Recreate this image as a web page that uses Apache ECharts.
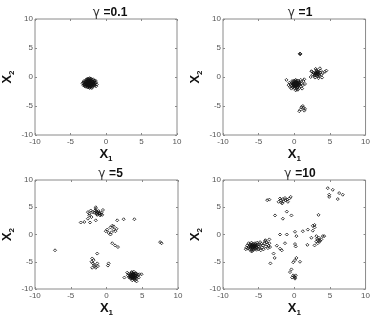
<!DOCTYPE html>
<html>
<head>
<meta charset="utf-8">
<script src="https://cdn.jsdelivr.net/npm/echarts@6/dist/echarts.min.js"></script>
<style>
html,body{margin:0;padding:0;background:#fff;}
#chart{width:373px;height:318px;}
</style>
</head>
<body>
<div id="chart"></div>
<script>
// panel titles (gamma values) and shared ticks
var gammas = ["0.1", "1", "5", "10"];
var ticks = [-10, -5, 0, 5, 10];

// gamma = 0.1 : one tight blob
var pts01 = [
  [-2.3,-1.1],[-2.5,-1.0],[-2.1,-1.2],[-2.4,-1.3],[-2.2,-0.9],[-2.6,-1.2],[-2.0,-1.0],[-2.7,-0.9],
  [-1.9,-1.3],[-2.3,-0.7],[-2.4,-1.5],[-2.8,-1.1],[-1.8,-1.0],[-2.5,-0.6],[-2.1,-1.6],[-3.0,-1.2],
  [-1.6,-1.2],[-2.2,-0.4],[-2.6,-1.7],[-2.9,-0.8],[-1.7,-0.7],[-3.1,-1.0],[-1.5,-1.1],[-2.0,-0.5],
  [-2.7,-1.5],[-1.9,-1.7],[-2.4,-0.3],[-3.2,-1.4],[-1.4,-0.9],[-2.8,-0.5],[-2.3,-1.9],[-1.6,-1.5],
  [-3.0,-1.6],[-2.9,-1.3],[-1.8,-0.4],[-2.5,-1.4],[-2.2,-1.4],[-2.0,-0.8],[-2.6,-0.8],[-2.4,-0.9],
  [-2.1,-0.6],[-2.7,-1.3],[-1.9,-1.1],[-2.3,-1.5],[-1.7,-1.3],[-2.9,-1.0],[-2.2,-1.8],[-3.3,-1.1],
  [-1.3,-1.3],[-2.6,-0.3],[-2.0,-1.4],[-2.5,-1.8],[-1.8,-0.8],[-3.1,-0.7],[-2.8,-1.7],[-1.5,-0.6],
  [-2.1,-0.3],[-2.4,-0.5],[-2.0,-1.9],[-3.2,-0.9],[-1.4,-1.6],[-2.7,-0.4],[-2.3,-0.2],[-1.6,-0.9],
  [-2.9,-1.5],[-2.35,-1.0],[-2.15,-1.1],[-2.45,-1.2],[-2.25,-1.3],[-2.55,-0.95],[-2.05,-1.25],
  [-2.65,-1.05],[-1.85,-1.15],[-2.75,-1.25],[-1.95,-0.85],[-2.35,-1.65],[-2.15,-0.75],[-2.55,-1.55],
  [-1.75,-1.45],[-2.85,-0.75],[-2.45,-0.75],[-2.05,-1.55],[-3.05,-1.35],[-1.65,-0.65],[-2.65,-0.55]
];

// gamma = 1 : two clusters and a few strays
var pts1 = [
  [0.2,-1.2],[0.0,-1.1],[0.4,-1.3],[0.1,-1.5],[0.3,-0.9],[-0.2,-1.3],[0.5,-1.0],[-0.1,-0.8],
  [0.6,-1.5],[0.2,-1.7],[-0.3,-1.0],[0.7,-1.2],[0.0,-1.9],[0.4,-0.6],[-0.4,-1.5],[0.8,-0.9],
  [0.2,-0.5],[-0.5,-1.2],[0.9,-1.6],[0.3,-2.1],[-0.2,-1.8],[0.6,-0.7],[0.1,-1.0],[0.3,-1.4],
  [-0.1,-1.4],[0.5,-1.7],[0.0,-0.6],[-0.3,-0.7],[1.0,-1.1],[0.7,-1.9],[-0.6,-1.7],[0.2,-2.3],
  [1.2,-1.4],[-0.7,-1.0],[1.3,-0.7],[0.9,-0.5],[-0.4,-2.0],[0.5,-2.2],[1.1,-2.0],[-0.8,-1.4],
  [0.4,-1.1],[0.1,-1.3],[0.3,-1.6],[-0.1,-1.2],[0.5,-1.3],[0.2,-0.9],[0.6,-1.1],[0.0,-1.6],
  [1.5,-1.2],[1.4,-0.4],[-1.1,-0.5],
  [0.35,-1.2],[0.05,-1.25],[0.25,-1.05],[0.45,-1.45],[-0.05,-1.05],[0.15,-1.4],[0.55,-1.2],
  [0.25,-1.55],[-0.25,-1.15],[0.65,-0.95],[0.15,-0.75],[0.4,-1.85],[-0.15,-1.6],[0.75,-1.4],
  [3.1,0.6],[3.3,0.7],[2.9,0.5],[3.2,0.3],[3.4,0.9],[3.0,0.8],[3.5,0.5],[2.8,0.2],
  [3.2,1.0],[3.6,0.8],[2.7,0.7],[3.3,0.1],[3.0,0.3],[3.7,1.1],[2.6,0.4],[3.1,1.2],
  [3.8,0.4],[2.5,0.9],[3.4,-0.2],[2.9,-0.1],[4.0,0.7],[2.4,1.0],[3.6,1.5],[4.3,0.9],
  [2.3,0.0],[3.0,1.4],[3.9,-0.1],[4.5,1.1],[3.2,0.5],[3.5,0.2],
  [3.15,0.75],[3.35,0.45],[3.05,0.55],[3.25,0.85],[2.95,0.65],
  [0.8,4.0],[0.8,4.0],[0.85,3.95],
  [1.0,-5.2],[1.3,-5.3],[1.5,-5.5],[0.9,-5.6],[0.7,-5.9],[1.4,-5.8],[1.2,-5.0]
];

// gamma = 5 : clusters break apart
var pts5 = [
  [-1.5,4.2],[-1.2,4.0],[-1.0,3.8],[-1.4,3.9],[-0.8,3.7],[-1.6,4.4],[-1.1,4.3],[-0.7,4.0],
  [-1.3,3.6],[-0.9,3.5],[-1.7,4.0],[-1.5,5.0],[-1.5,4.7],[-0.5,4.5],[-2.0,4.1],[-0.6,3.6],
  [-1.25,4.15],[-0.95,3.95],[-1.35,3.75],
  [-3.6,2.2],[-3.1,2.3],[-2.6,2.9],[-2.4,3.5],[-2.3,2.2],[-1.5,2.6],[-2.6,4.1],[-2.2,4.4],
  [-2.4,3.8],[-2.1,3.2],
  [0.1,0.9],[0.55,1.3],[0.8,1.6],[1.0,1.5],[1.24,0.6],[0.3,0.3],[0.55,0.0],[-0.1,0.6],
  [1.0,0.9],[1.4,1.05],[0.7,0.4],
  [1.5,2.6],[2.4,2.8],[3.9,2.8],
  [0.8,-1.6],[1.2,-2.0],[1.6,-2.3],
  [7.5,-1.4],[7.7,-1.6],
  [-7.2,-2.9],
  [-1.3,-3.5],[-2.0,-4.4],[-2.1,-5.0],[-1.75,-5.6],[-2.0,-6.1],[-1.5,-6.1],[-1.3,-5.3],[-1.8,-4.7],
  [-1.6,-5.8],[-1.2,-5.8],[-1.9,-5.3],
  [0.3,-5.3],[0.2,-5.7],
  [3.7,-7.6],[3.5,-7.5],[3.9,-7.7],[3.6,-7.9],[3.8,-7.3],[3.4,-7.8],[4.0,-7.5],[3.3,-7.4],
  [4.1,-7.9],[3.7,-7.1],[3.5,-8.1],[4.2,-7.2],[3.2,-7.7],[3.9,-8.2],[4.3,-7.7],[3.6,-7.0],
  [3.1,-7.2],[4.4,-7.4],[3.3,-8.0],[4.0,-8.4],[3.8,-7.8],[3.6,-7.6],[3.9,-7.4],[3.4,-7.2],
  [4.1,-7.1],[3.7,-8.0],[3.2,-7.9],[4.5,-7.9],[3.0,-7.5],[4.2,-8.1],[3.8,-6.8],[3.5,-6.9],
  [4.6,-7.3],[2.5,-7.9],[4.9,-7.3],[4.2,-8.6],[3.6,-8.4],[2.9,-7.0],[3.7,-7.4],[3.5,-7.7],
  [3.9,-7.9],[3.75,-7.75],[3.45,-7.35],[4.05,-7.65],[3.65,-7.25],[3.85,-8.05],[3.35,-7.6],
  [4.15,-7.45],[3.55,-7.85],[3.95,-7.15],[3.75,-7.45]
];

// gamma = 10 : widely scattered
var pts10 = [
  [-5.7,-2.1],[-5.9,-2.0],[-5.5,-2.2],[-6.0,-2.4],[-5.4,-1.9],[-5.8,-1.7],[-6.2,-2.1],[-5.6,-2.5],
  [-5.3,-2.3],[-6.1,-1.8],[-5.9,-2.7],[-5.2,-2.0],[-6.4,-2.3],[-5.5,-1.6],[-5.7,-2.8],[-6.3,-1.9],
  [-5.0,-2.2],[-6.5,-2.6],[-5.1,-1.8],[-5.8,-2.3],[-6.0,-1.5],[-5.4,-2.6],[-6.6,-2.0],[-4.9,-2.5],
  [-5.6,-1.9],[-6.2,-2.8],[-5.3,-2.8],[-6.7,-2.4],[-4.8,-1.9],[-5.9,-3.0],[-6.4,-1.6],[-5.0,-2.7],
  [-5.6,-2.2],[-5.8,-2.5],[-6.1,-2.2],[-5.4,-2.1],[-6.8,-2.7],[-6.0,-3.1],[-5.2,-1.5],
  [-5.75,-2.35],[-5.95,-2.2],[-5.65,-1.95],[-6.15,-2.5],[-5.45,-2.4],[-5.85,-1.9],[-6.05,-2.05],
  [-4.6,-1.7],[-4.4,-2.0],[-4.2,-1.6],[-4.0,-2.2],[-3.8,-1.8],[-4.5,-2.4],[-3.6,-2.1],[-3.9,-1.4],
  [-4.3,-2.7],[-3.5,-1.6],[-4.7,-2.9],[-3.7,-2.5],[-4.1,-1.2],[-4.8,-1.4],[-3.4,-2.3],
  [-2.2,6.0],[-1.9,6.3],[-1.6,6.5],[-1.3,6.7],[-1.0,6.4],[-0.7,6.6],[-0.5,6.9],[-1.8,5.9],
  [-2.0,6.6],[-1.5,6.1],[-1.2,6.3],[-0.9,6.0],[-1.7,5.7],[-3.5,6.4],[-3.8,6.3],
  [-2.7,3.5],[-1.6,2.9],[-1.05,4.2],[-0.4,3.5],
  [4.7,8.5],[5.4,8.2],[4.9,7.3],[4.9,6.9],[6.1,6.5],[6.3,7.6],[6.8,7.3],
  [3.4,3.6],
  [2.85,1.3],[2.6,0.7],[1.9,0.9],[1.2,0.6],[2.85,1.75],[2.6,1.6],[3.1,-0.3],[3.3,-1.05],
  [3.55,-1.3],[3.8,-0.9],[3.1,-1.3],[4.0,-0.3],[4.2,-0.3],[3.3,-1.6],[2.85,-2.0],[1.84,-1.9],
  [2.4,-0.6],[3.45,-0.6],[3.6,-1.1],[3.2,-0.8],
  [-2.0,0.0],[-1.05,0.0],[0.1,0.5],[0.3,-0.3],[0.1,-1.75],[0.2,-2.2],[-2.45,-2.05],[-2.0,-2.6],
  [-1.3,-1.6],[-1.75,-2.9],[-2.9,-3.5],[-3.35,-5.3],[-2.75,-4.3],[-3.5,-0.9],[-4.05,-1.05],
  [0.1,-4.7],[0.3,-4.3],[0.8,-5.0],[-0.15,-5.1],[-0.6,-6.9],[-0.4,-6.4],[-0.15,-7.5],[0.1,-7.9],
  [0.0,-7.7],[0.2,-7.5],[-0.3,-7.9],[0.1,-8.1]
];

var panels = [pts01, pts1, pts5, pts10];

var grids = [
  {left: 33, top: 19, width: 144, height: 116},
  {left: 223, top: 19, width: 144, height: 116},
  {left: 33, top: 180, width: 145, height: 115},
  {left: 223, top: 180, width: 144, height: 115}
];

var FONT = "Liberation Sans, Arial, sans-serif";
var frameColor = "#8a8a8a";

function baseAxis(i) {
  return {
    type: "value", gridIndex: i, min: ticks[0], max: ticks[ticks.length - 1], interval: 5,
    axisLine: {show: false, onZero: false},
    axisTick: {show: true, inside: true, length: 2, lineStyle: {color: frameColor}},
    splitLine: {show: false}
  };
}

function mainAxis(i, dim) {
  var ax = baseAxis(i);
  ax.axisLabel = {color: "#555", fontSize: 8, fontFamily: FONT, margin: dim == "x" ? 3 : 2};
  ax.nameLocation = "middle";
  ax.nameTextStyle = {rich: {
    x: {fontSize: 13, fontWeight: "bold", fontFamily: FONT, color: "#111"},
    s: {fontSize: 8, fontWeight: "bold", fontFamily: FONT, color: "#111", padding: [9, 0, 0, 0]}
  }};
  if (dim == "x") {
    ax.name = "{x|X}{s|1}";
    ax.nameGap = 11;
  } else {
    ax.name = "{x|X}{s|2}";
    ax.nameGap = 19;
    ax.nameRotate = 90;
  }
  return ax;
}

function mirrorAxis(i, pos) {
  var ax = baseAxis(i);
  ax.position = pos;
  ax.axisLabel = {show: false};
  return ax;
}

var xAxes = [], yAxes = [], series = [], titles = [];
for (var i = 0; i < 4; i++) {
  grids[i].show = true;
  grids[i].borderColor = frameColor;
  grids[i].borderWidth = 1;
  grids[i].backgroundColor = "#fff";
  xAxes.push(mainAxis(i, "x"));
  xAxes.push(mirrorAxis(i, "top"));
  yAxes.push(mainAxis(i, "y"));
  yAxes.push(mirrorAxis(i, "right"));
  series.push({
    type: "scatter",
    xAxisIndex: i * 2,
    yAxisIndex: i * 2,
    data: panels[i],
    symbol: "diamond",
    symbolSize: 3,
    silent: true,
    itemStyle: {color: "rgba(255,255,255,0)", borderColor: "#111", borderWidth: 1}
  });
  titles.push({
    text: "{g|\u03b3 }{b|=" + gammas[i] + "}",
    left: grids[i].left + grids[i].width / 2,
    top: grids[i].top - 17,
    textAlign: "center",
    textStyle: {
      rich: {
        g: {fontSize: 12, fontWeight: "normal", fontFamily: "DejaVu Sans, sans-serif", color: "#333"},
        b: {fontSize: 12, fontWeight: "bold", fontFamily: FONT, color: "#111"}
      }
    }
  });
}

var chart = echarts.init(document.getElementById("chart"));
chart.setOption({
  animation: false,
  backgroundColor: "#fff",
  title: titles,
  grid: grids,
  xAxis: xAxes,
  yAxis: yAxes,
  series: series
});
</script>
</body>
</html>
